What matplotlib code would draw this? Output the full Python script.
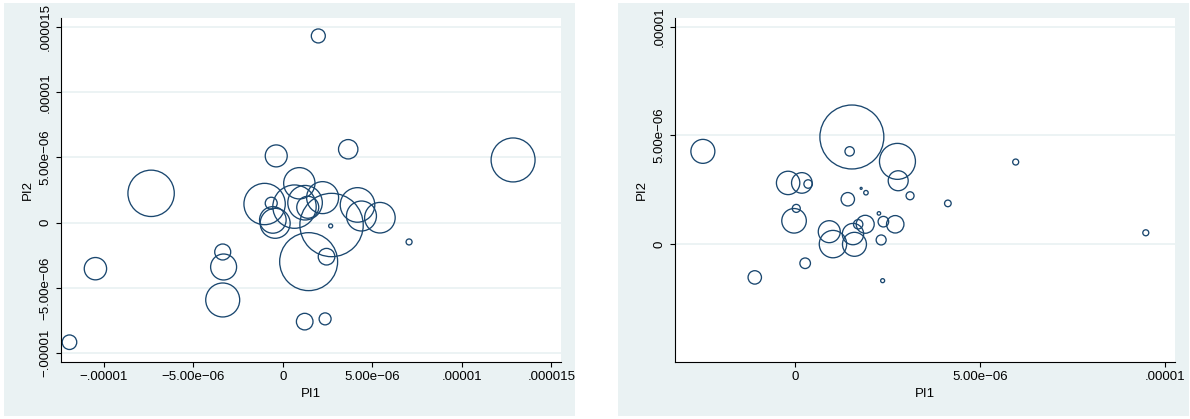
import matplotlib
matplotlib.use("Agg")
import matplotlib.pyplot as plt

plt.rcParams['font.family'] = ['Liberation Sans', 'DejaVu Sans']

# ---------------- data ----------------
left_pi1 = [-7.36e-6, -1.047e-5, -1.192e-5, -3.36e-6, -3.31e-6, -3.36e-6, -0.37e-6,
            3.65e-6, 0.92e-6, -1.02e-6, -0.65e-6, 0.65e-6, 1.24e-6, 2.22e-6, 1.39e-6,
            4.17e-6, 4.39e-6, 5.42e-6, 2.72e-6, -0.56e-6, -0.43e-6, 2.67e-6, 7.05e-6,
            2.44e-6, 1.44e-6, 1.22e-6, 2.36e-6, 1.98e-6, 1.286e-5]
left_pi2 = [2.25e-6, -3.53e-6, -9.17e-6, -2.25e-6, -3.40e-6, -5.93e-6, 5.12e-6,
            5.63e-6, 3.02e-6, 1.43e-6, 1.49e-6, 1.23e-6, 1.53e-6, 1.92e-6, 1.18e-6,
            1.36e-6, 0.51e-6, 0.38e-6, -0.18e-6, 0.21e-6, -0.05e-6, -0.25e-6, -1.48e-6,
            -2.61e-6, -2.99e-6, -7.59e-6, -7.38e-6, 1.432e-5, 4.81e-6]
left_weight = [538, 125, 53, 64, 169, 289, 121,
               94, 246, 428, 36, 471, 299, 256, 121,
               299, 225, 234, 1005, 177, 225, 4, 9,
               69, 841, 69, 36, 49, 484]

right_pi1 = [-2.48e-6, 1.54e-6, 1.48e-6, 2.77e-6, 2.79e-6, 3.11e-6, 4.13e-6,
             -0.18e-6, 0.19e-6, 0.36e-6, 1.79e-6, 1.92e-6, 1.43e-6, 0.04e-6,
             -0.02e-6, 2.27e-6, 2.39e-6, 2.71e-6, 1.90e-6, 1.71e-6, 0.93e-6,
             1.03e-6, 1.57e-6, 1.61e-6, 2.33e-6, 0.28e-6, -1.08e-6, 2.37e-6,
             5.96e-6, 9.47e-6]
right_pi2 = [4.27e-6, 4.93e-6, 4.27e-6, 3.81e-6, 2.92e-6, 2.23e-6, 1.88e-6,
             2.82e-6, 2.82e-6, 2.77e-6, 2.57e-6, 2.37e-6, 2.07e-6, 1.65e-6,
             1.08e-6, 1.42e-6, 1.04e-6, 0.92e-6, 0.92e-6, 0.92e-6, 0.58e-6,
             0.01e-6, 0.47e-6, 0.0, 0.20e-6, -0.87e-6, -1.52e-6, -1.67e-6,
             3.78e-6, 0.53e-6]
right_weight = [144, 1024, 22, 324, 100, 16, 11,
                137, 106, 18, 1, 5, 45, 16,
                151, 3, 28, 76, 81, 22, 121,
                188, 114, 144, 25, 28, 45, 4,
                9, 9]

left_ticks = [-1e-5, -5e-6, 0, 5e-6, 1e-5, 1.5e-5]
left_ticklabels = ['\u2212.00001', '\u22125.00e\u221206', '0', '5.00e\u221206', '.00001', '.000015']
right_ticks = [0, 5e-6, 1e-5]
right_ticklabels = ['0', '5.00e\u221206', '.00001']

x_name = 'PI1'
y_name = 'PI2'

# ---------------- style ----------------
BG = '#EAF2F3'
NAVY = '#1A476F'
W, H = 1190, 419

fig = plt.figure(figsize=(W / 100, H / 100), dpi=100)
fig.patch.set_facecolor('white')

for x0 in (4, 618):
    bg = fig.add_axes([x0 / W, 3 / H, 571 / W, 413 / H])
    bg.set_facecolor(BG)
    bg.set_xticks([])
    bg.set_yticks([])
    for sp in bg.spines.values():
        sp.set_visible(False)
    bg.set_zorder(0)


def panel(left_px, xs, ys, ws, xlim, ylim, xt, xtl, yt, ytl):
    ax = fig.add_axes([left_px / W, (H - 362.3) / H, 500 / W, 344.6 / H])
    ax.set_zorder(1)
    ax.set_facecolor('white')
    for sp in ('top', 'right'):
        ax.spines[sp].set_visible(False)
    for sp in ('left', 'bottom'):
        ax.spines[sp].set_linewidth(0.8)
        ax.spines[sp].set_color('black')
    ax.set_xlim(*xlim)
    ax.set_ylim(*ylim)
    for v in yt:
        ax.axhline(v, color=BG, lw=1.3, zorder=0.5)
    sizes = [w * 2.07 for w in ws]
    ax.scatter(xs, ys, s=sizes, facecolors='none', edgecolors=NAVY,
               linewidths=0.95, zorder=2, clip_on=False)
    ax.set_xticks(xt)
    ax.set_xticklabels(xtl)
    ax.set_yticks(yt)
    ax.set_yticklabels(ytl)
    ax.tick_params(direction='out', length=3.6, width=0.8, color='black',
                   labelsize=9.5, pad=3)
    for lab in ax.get_yticklabels():
        lab.set_rotation(90)
        lab.set_va('center')
    ax.set_xlabel(x_name, fontsize=9.5, va='center')
    ax.set_ylabel(y_name, fontsize=9.5, va='center')
    ax.xaxis.set_label_coords(0.5, -0.093)
    ax.yaxis.set_label_coords(-0.066, 0.5)
    return ax


panel(60.7, left_pi1, left_pi2, left_weight,
      (-1.241e-5, 1.552e-5), (-1.071e-5, 1.572e-5),
      left_ticks, left_ticklabels, left_ticks, left_ticklabels)

panel(674.7, right_pi1, right_pi2, right_weight,
      (-3.24e-6, 1.025e-5), (-5.42e-6, 1.041e-5),
      right_ticks, right_ticklabels, right_ticks, right_ticklabels)

fig.savefig('out.png', dpi=100, facecolor='white')
